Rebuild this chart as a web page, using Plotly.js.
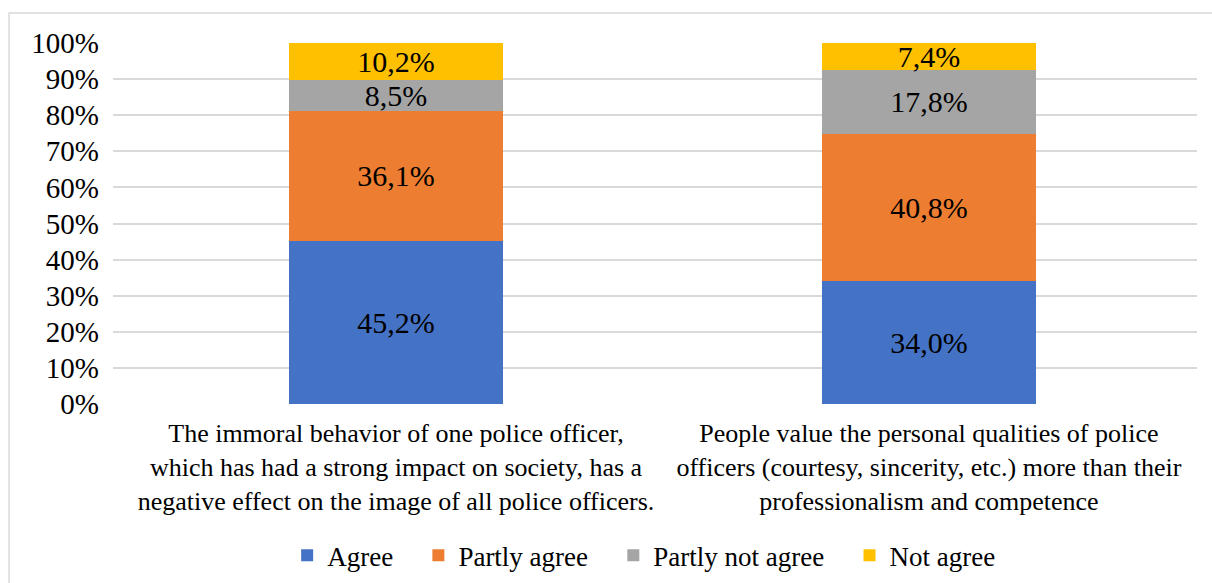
<!DOCTYPE html>
<html>
<head>
<meta charset="utf-8">
<script src="https://cdn.plot.ly/plotly-3.0.1.min.js"></script>
<style>html,body{margin:0;padding:0;background:#fff;}#chart{width:1212px;height:583px;}</style>
</head>
<body>
<div id="chart"></div>
<script>
const categories = [
  "The immoral behavior of one police officer,<br>which has had a strong impact on society, has a<br>negative effect on the image of all police officers.",
  "People value the personal qualities of police<br>officers (courtesy, sincerity, etc.) more than their<br>professionalism and competence"
];
const seriesNames = ["Agree", "Partly agree", "Partly not agree", "Not agree"];
const agree = [45.2, 34.0];
const partlyAgree = [36.1, 40.8];
const partlyNotAgree = [8.5, 17.8];
const notAgree = [10.2, 7.4];
const yTicks = [0, 10, 20, 30, 40, 50, 60, 70, 80, 90, 100];

const barColors = ["#4472c4", "#ed7d31", "#a5a5a5", "#ffc000"];
const seriesValues = [agree, partlyAgree, partlyNotAgree, notAgree];
const PAD = "\u00a0\u00a0\u00a0";

const traces = seriesValues.map((v, i) => ({
  type: "bar",
  name: seriesNames[i] + (i < 3 ? PAD : ""),
  x: categories,
  y: v,
  width: 0.4,
  marker: {color: barColors[i], line: {width: 0}},
  text: v.map(n => n.toFixed(1).replace(".", ",") + "%"),
  textposition: "inside",
  insidetextanchor: "middle",
  textangle: 0,
  constraintext: "none",
  textfont: {family: "Times New Roman", size: 30, color: "#000000"},
  hoverinfo: "skip"
}));

const layout = {
  width: 1212, height: 583,
  barmode: "stack",
  margin: {l: 113, r: 15, t: 43, b: 179, autoexpand: false},
  paper_bgcolor: "#ffffff",
  plot_bgcolor: "#ffffff",
  showlegend: true,
  legend: {
    orientation: "h", x: 0.49, xanchor: "center", y: -0.42, yanchor: "middle",
    font: {family: "Times New Roman", size: 27, color: "#000000"},
    traceorder: "normal", itemwidth: 30
  },
  xaxis: {
    type: "category",
    range: [-0.531, 1.503],
    showgrid: false, zeroline: false, showline: false,
    ticks: "", tickfont: {family: "Times New Roman", size: 26, color: "#000000"},
    ticklabelstandoff: 11, automargin: false
  },
  yaxis: {
    range: [0, 100],
    tickvals: yTicks,
    ticktext: yTicks.map(t => t + "%"),
    showgrid: true, gridcolor: "#d9d9d9", gridwidth: 2,
    zeroline: false, showline: false, ticks: "",
    tickfont: {family: "Times New Roman", size: 29, color: "#000000"},
    ticklabelstandoff: 13, automargin: false
  },
  shapes: [{
    type: "rect", xref: "paper", yref: "paper",
    x0: -0.0959, x1: 1.02, y0: -0.55, y1: 1.083,
    line: {color: "#d9d9d9", width: 1.5}, fillcolor: "rgba(0,0,0,0)", layer: "below"
  }]
};

Plotly.newPlot("chart", traces, layout, {staticPlot: true});
</script>
</body>
</html>
